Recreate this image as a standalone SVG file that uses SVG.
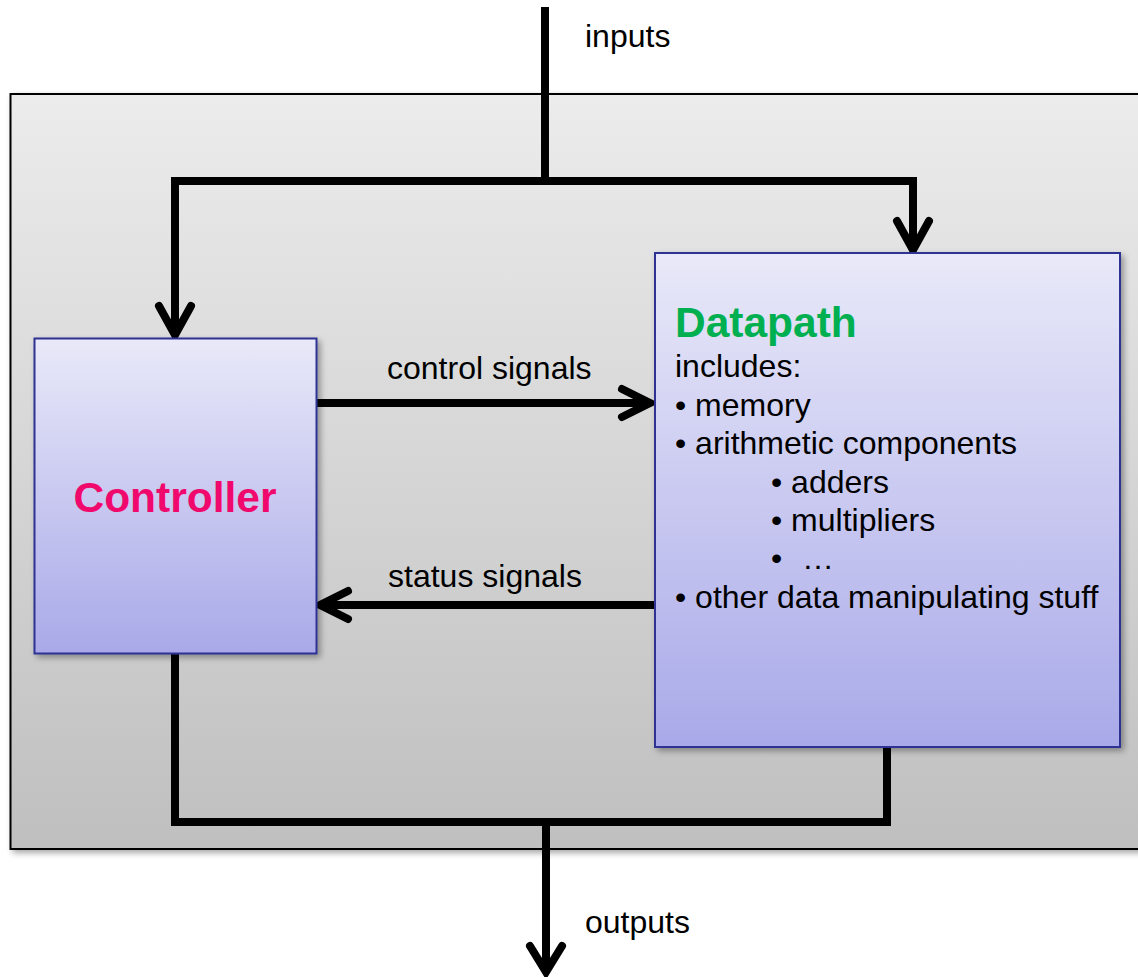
<svg xmlns="http://www.w3.org/2000/svg" width="1138" height="977" viewBox="0 0 1138 977">
<style>
.t{font-family:"Liberation Sans",Arial,sans-serif;font-size:32px;fill:#000}
.title{font-family:"Liberation Sans",Arial,sans-serif;font-size:42.5px;font-weight:bold}
.w{fill:none;stroke:#000;stroke-width:8}
.box{stroke:#2e3192;stroke-width:2}
</style>
<defs>
<linearGradient id="gOuter" x1="0" y1="0" x2="0" y2="1">
<stop offset="0" stop-color="#ececec"/><stop offset="1" stop-color="#bfbfbf"/>
</linearGradient>
<linearGradient id="gBox" x1="0" y1="0" x2="0" y2="1">
<stop offset="0" stop-color="#e9e9f9"/><stop offset="1" stop-color="#a9a9e9"/>
</linearGradient>
<filter id="sh" x="-5%" y="-5%" width="110%" height="110%">
<feGaussianBlur in="SourceAlpha" stdDeviation="3"/>
<feOffset dx="3" dy="3"/>
<feComponentTransfer><feFuncA type="linear" slope="0.35"/></feComponentTransfer>
<feMerge><feMergeNode/><feMergeNode in="SourceGraphic"/></feMerge>
</filter>
</defs>
<rect width="1138" height="977" fill="#fff"/>
<g id="system">
<rect x="10.5" y="94" width="1140" height="755" fill="url(#gOuter)" stroke="#000" stroke-width="2" filter="url(#sh)"/>
</g>
<g id="connectors" stroke-linecap="butt">
<polyline class="w" points="545,7 545,181"/>
<polyline class="w" points="175,335 175,181 913,181 913,250"/>
<polyline class="w" points="175,648 175,822 887,822 887,743"/>
<polyline class="w" points="546,822 546,972"/>
<line class="w" x1="316" y1="403" x2="650" y2="403"/>
<line class="w" x1="654" y1="605" x2="322" y2="605"/>
<g fill="none" stroke="#000" stroke-width="8" stroke-linecap="round" stroke-linejoin="miter">
<polyline points="159,306 175,335 191,306"/>
<polyline points="897,221 913,250 929,221"/>
<polyline points="622,389 650,403 622,417"/>
<polyline points="348,591 320,605 348,619"/>
<polyline points="530,946 546,972 562,946"/>
</g>
</g>
<g id="controller">
<rect x="34.5" y="338.5" width="282" height="315" fill="url(#gBox)" class="box" filter="url(#sh)"/>
<text class="title" x="175" y="512" text-anchor="middle" fill="#f0086c">Controller</text>
</g>
<g id="datapath">
<rect x="655" y="253" width="465" height="494" fill="url(#gBox)" class="box" filter="url(#sh)"/>
<text class="title" x="675" y="337" fill="#00b050">Datapath</text>
<text class="t" x="675" y="377">includes:</text>
<text class="t" x="675" y="416">• memory</text>
<text class="t" x="675" y="454">• arithmetic components</text>
<text class="t" x="771" y="493">• adders</text>
<text class="t" x="771" y="531">• multipliers</text>
<text class="t" x="771" y="569">•<tspan x="802">…</tspan></text>
<text class="t" x="675" y="608">• other data manipulating stuff</text>
</g>
<g id="labels">
<text class="t" x="585" y="47">inputs</text>
<text class="t" x="387" y="379">control signals</text>
<text class="t" x="388" y="587">status signals</text>
<text class="t" x="585" y="933">outputs</text>
</g>
</svg>
